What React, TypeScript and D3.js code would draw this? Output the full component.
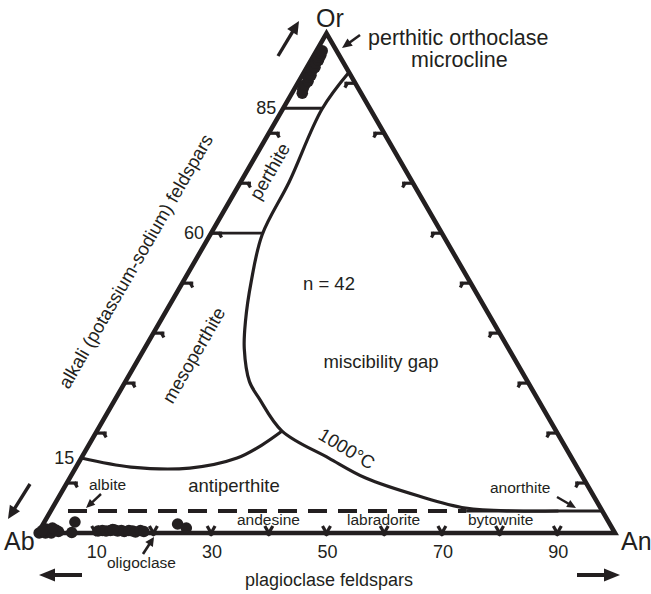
import React from "react";
import * as d3 from "d3";

// ---- Data (ternary: An %, Or %; Ab = 100 - An - Or) ----
const topAn = [1.8, 1.5, 1.4, 1.6, 1.3, 1.5, 1.2, 1.4, 1.1, 1.3, 1.0, 1.2, 0.9, 1.0];
const topOr = [88.0, 88.8, 89.6, 90.4, 91.2, 91.6, 92.6, 93.2, 94.0, 94.6, 95.2, 95.6, 96.1, 96.5];
const abAn = [0.2, 0.8, 1.3, 1.8, 2.3, 2.8, 3.4, 1.0, 2.0, 0.5];
const abOr = [0.0, 0.2, 0.0, 0.4, 0.0, 0.6, 0.3, 0.8, 1.0, 0.5];
const oliAn = [5.3, 5.8, 10.2, 10.9, 11.6, 12.3, 13.0, 13.6, 14.2, 14.8, 15.5, 16.2, 16.8, 17.5, 18.2, 12.6, 23.3, 25.2];
const oliOr = [2.2, 0.1, 0.4, 0.5, 0.4, 0.5, 0.6, 0.4, 0.5, 0.3, 0.5, 0.4, 0.2, 0.5, 0.3, 0.7, 1.8, 1.0];

// boundary curves (An %, Or %)
const solvusAn = [7.8, 6.8, 8.4, 9.0, 11.8, 14.8, 17.3, 21.5, 24.9, 32.1, 42.9, 51.3, 62.3, 71.6, 80.5, 88.0];
const solvusOr = [92.2, 84.8, 70.3, 59.7, 50.3, 42.3, 36.9, 30.3, 26.9, 20.4, 15.0, 11.0, 7.4, 5.0, 4.4, 4.4];
const antiAn = [0.0, 9.5, 19.8, 27.0, 30.0, 32.1];
const antiOr = [15.0, 13.2, 13.0, 15.0, 17.6, 20.4];
const isoOr = [85, 60];
const isoAnEnd = [6.8, 9.0];
const plagLineOr = 4.4;
const dashedAn = [3.0, 72.0];

const bottomTickLabels = [10, 30, 50, 70, 90];
const leftTickLabels = [15, 60, 85];
const tickSteps = [10, 20, 30, 40, 50, 60, 70, 80, 90];

const W = 651;
const H = 594;
const xS = d3.scaleLinear().domain([0, 100]).range([38, 615]);
const side = 577;
const yS = d3.scaleLinear().domain([0, 100]).range([533, 533 - (side * Math.sqrt(3)) / 2]);
const P = (an: number, or: number): [number, number] => [xS(an + or / 2), yS(or)];

const FONT = "'Liberation Sans', Arial, Helvetica, sans-serif";

function Arrow({ x1, y1, x2, y2, w = 3, head = 12, hw = 5 }: any) {
  const dx = x2 - x1, dy = y2 - y1;
  const L = Math.hypot(dx, dy);
  const ux = dx / L, uy = dy / L;
  const bx = x2 - ux * head, by = y2 - uy * head;
  const px = -uy, py = ux;
  const pts = [
    [x2, y2],
    [bx + px * hw, by + py * hw],
    [bx - px * hw, by - py * hw],
  ];
  return (
    <g>
      <line x1={x1} y1={y1} x2={bx + ux * 1} y2={by + uy * 1} stroke="#231f20" strokeWidth={w} />
      <polygon points={pts.map((p) => p.join(",")).join(" ")} fill="#231f20" />
    </g>
  );
}

export default function App() {
  const ink = "#231f20";
  const A = P(0, 0), B = P(100, 0), C = P(0, 100);
  const tri = `M${A[0]},${A[1]}L${B[0]},${B[1]}L${C[0]},${C[1]}Z`;
  const line = d3.line().curve(d3.curveCatmullRom.alpha(0.5));
  const solvus = line(solvusAn.map((a, i) => P(a, solvusOr[i])));
  const anti = line(antiAn.map((a, i) => P(a, antiOr[i])));

  const ticks: any[] = [];
  const seg = (p: [number, number], d: [number, number], a: number, b: number, k: string, w = 3.2) => (
    <line key={k} x1={p[0] + d[0] * a} y1={p[1] + d[1] * a} x2={p[0] + d[0] * b} y2={p[1] + d[1] * b}
      stroke={ink} strokeWidth={w} />
  );
  const s3 = Math.sqrt(3) / 2;
  tickSteps.forEach((v) => {
    const pb = P(v, 0);
    ticks.push(seg(pb, [0.5, -s3], -3, 8, "b1" + v));
    ticks.push(seg(pb, [-0.5, -s3], -3, 8, "b2" + v));
    const pl = P(0, v);
    ticks.push(seg(pl, [1, 0], 0, 11, "l1" + v));
    ticks.push(seg([pl[0] + 8, pl[1]], [0.5, s3], -1, 5, "l2" + v));
    const pr = P(100 - v, v);
    ticks.push(seg(pr, [-1, 0], 0, 11, "r1" + v));
    ticks.push(seg([pr[0] - 8, pr[1]], [-0.5, s3], -1, 5, "r2" + v));
  });

  const dots: [number, number][] = [
    ...topAn.map((a, i) => P(a, topOr[i])),
    ...abAn.map((a, i) => P(a, abOr[i])),
    ...oliAn.map((a, i) => P(a, oliOr[i])),
  ];

  const dA = P(dashedAn[0], plagLineOr), dB = P(dashedAn[1], plagLineOr);
  const eR = P(100 - plagLineOr, plagLineOr);

  return (
    <svg width={W} height={H} style={{ position: "absolute", left: 0, top: 0, background: "#fff" }}
      fontFamily={FONT} fill={ink}>
      <rect width={W} height={H} fill="#fff" />
      {/* curves */}
      <path d={solvus || ""} fill="none" stroke={ink} strokeWidth={3.2} />
      <path d={anti || ""} fill="none" stroke={ink} strokeWidth={3.2} />
      {isoOr.map((o, i) => {
        const p1 = P(0, o), p2 = P(isoAnEnd[i], o);
        return <line key={o} x1={p1[0]} y1={p1[1]} x2={p2[0]} y2={p2[1]} stroke={ink} strokeWidth={2.8} />;
      })}
      <line x1={dA[0]} y1={dA[1]} x2={dB[0]} y2={dB[1]} stroke={ink} strokeWidth={3.8} strokeDasharray="19 11" />
      <line x1={dB[0]} y1={dB[1]} x2={eR[0]} y2={eR[1]} stroke={ink} strokeWidth={3.2} />
      {ticks}
      <path d={tri} fill="none" stroke={ink} strokeWidth={4.6} strokeLinejoin="miter" />
      {dots.map((d, i) => (
        <circle key={i} cx={d[0]} cy={d[1]} r={5.8} fill={ink} />
      ))}

      {/* vertex labels */}
      <text x={330} y={27} fontSize={25} textAnchor="middle">Or</text>
      <text x={4} y={550} fontSize={25}>Ab</text>
      <text x={621} y={550} fontSize={25}>An</text>

      {/* tick labels */}
      {bottomTickLabels.map((v) => (
        <text key={v} x={P(v, 0)[0] + 1} y={558} fontSize={18} textAnchor="middle">{v}</text>
      ))}
      {leftTickLabels.map((v) => (
        <text key={v} x={P(0, v)[0] - 7} y={P(0, v)[1] + 6} fontSize={18} textAnchor="end">{v}</text>
      ))}

      {/* axis titles */}
      <text x={329} y={586} fontSize={18} textAnchor="middle">plagioclase feldspars</text>
      <text transform="translate(137,262) rotate(-60)" fontSize={18.5} textAnchor="middle" dominantBaseline="middle">
        alkali (potassium-sodium) feldspars
      </text>

      {/* field labels */}
      <text x={368} y={45} fontSize={21.5}>perthitic orthoclase</text>
      <text x={411} y={67} fontSize={21.5}>microcline</text>
      <text transform="translate(271,172) rotate(-60)" fontSize={18.5} textAnchor="middle" dominantBaseline="middle">perthite</text>
      <text transform="translate(195,356) rotate(-60)" fontSize={18.5} textAnchor="middle" dominantBaseline="middle">mesoperthite</text>
      <text x={303} y={290} fontSize={18.5}>n = 42</text>
      <text x={381} y={368} fontSize={18.5} textAnchor="middle">miscibility gap</text>
      <text transform="translate(346,450) rotate(31)" fontSize={18.5} textAnchor="middle" dominantBaseline="middle">1000°C</text>
      <text x={234} y={492} fontSize={18.5} textAnchor="middle">antiperthite</text>
      <text x={89} y={490} fontSize={15.5}>albite</text>
      <text x={490} y={493} fontSize={15.5}>anorthite</text>
      <text x={237} y={525} fontSize={15.5}>andesine</text>
      <text x={347} y={525} fontSize={15.5}>labradorite</text>
      <text x={468} y={525} fontSize={15.5}>bytownite</text>
      <text x={107} y={568} fontSize={15.5}>oligoclase</text>

      {/* arrows */}
      <Arrow x1={278} y1={56} x2={299} y2={21} w={3.4} head={13} hw={6} />
      <Arrow x1={360} y1={35} x2={342} y2={48} w={2.6} head={10} hw={4.5} />
      <Arrow x1={30} y1={484} x2={8} y2={519} w={3.4} head={13} hw={6} />
      <Arrow x1={101} y1={494} x2={86} y2={508} w={2.4} head={9} hw={4} />
      <Arrow x1={557} y1={497} x2={576} y2={508} w={2.4} head={9} hw={4} />
      <Arrow x1={143} y1={554} x2={154} y2={537} w={2.6} head={9} hw={4.5} />
      <Arrow x1={82} y1={575} x2={39} y2={575} w={4} head={16} hw={6.5} />
      <Arrow x1={577} y1={575} x2={620} y2={575} w={4} head={16} hw={6.5} />
    </svg>
  );
}
